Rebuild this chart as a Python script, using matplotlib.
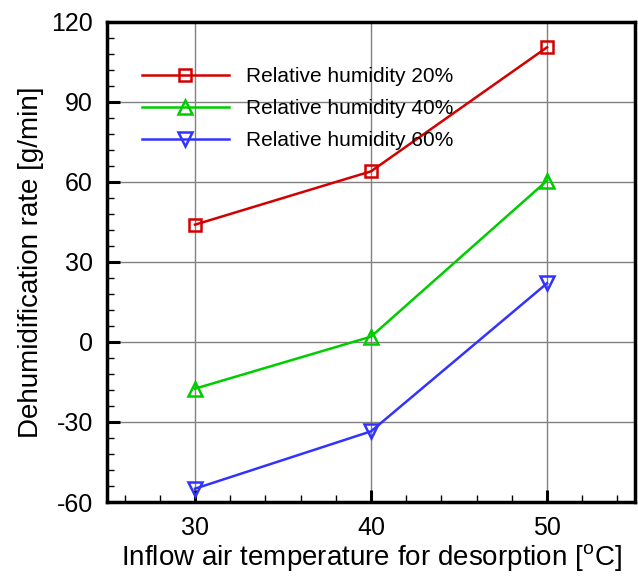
import numpy as np
import matplotlib.pyplot as plt
from matplotlib.ticker import MultipleLocator

plt.rcParams['font.family'] = ['Liberation Sans', 'DejaVu Sans']
plt.rcParams['mathtext.fontset'] = 'custom'
plt.rcParams['mathtext.rm'] = 'Liberation Sans'
plt.rcParams['axes.unicode_minus'] = False

temps = [30, 40, 50]
rh20 = [44, 64, 110.5]
rh40 = [-17.5, 2, 60.5]
rh60 = [-55, -33.5, 22]
labels = ["Relative humidity 20%", "Relative humidity 40%", "Relative humidity 60%"]

fig = plt.figure(figsize=(6.38, 5.8), dpi=100)
ax = fig.add_axes([107 / 638, 1 - 502 / 580, (635 - 107) / 638, (502 - 22) / 580])

ax.plot(temps, rh20, color='#d40000', marker='s', ms=9, mfc='none', mew=1.8, lw=1.8, label=labels[0])
ax.plot(temps, rh40, color='#00cc00', marker='^', ms=10, mfc='none', mew=1.8, lw=1.8, label=labels[1])
ax.plot(temps, rh60, color='#3333ff', marker='v', ms=10, mfc='none', mew=1.8, lw=1.8, label=labels[2])

ax.set_xlim(25, 55)
ax.set_ylim(-60, 120)
ax.xaxis.set_major_locator(MultipleLocator(10))
ax.xaxis.set_minor_locator(MultipleLocator(2))
ax.yaxis.set_major_locator(MultipleLocator(30))
ax.yaxis.set_minor_locator(MultipleLocator(6))
ax.tick_params(which='major', direction='in', length=9, width=2.2, labelsize=18, pad=10)
ax.tick_params(which='minor', direction='in', length=5, width=1)
ax.grid(True, which='major', color='#808080', lw=1)
for s in ax.spines.values():
    s.set_linewidth(2.5)

ax.set_xlabel("Inflow air temperature for desorption [$^\\mathrm{o}$C]", fontsize=20, labelpad=2)
ax.set_ylabel("Dehumidification rate [g/min]", fontsize=20, labelpad=5)

ax.legend(loc='upper left', bbox_to_anchor=(0.03, 0.945), frameon=False, fontsize=15,
          handlelength=4.2, labelspacing=0.62, handletextpad=0.8)

fig.savefig("out.png", dpi=100)
